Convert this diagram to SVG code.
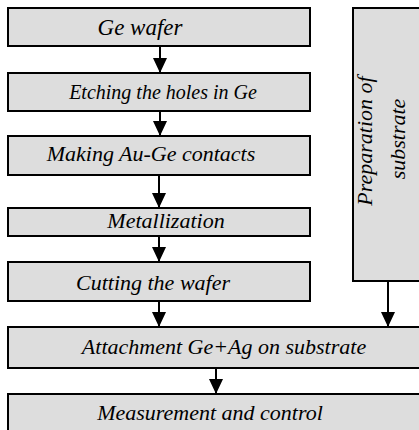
<svg xmlns="http://www.w3.org/2000/svg" width="419" height="430" viewBox="0 0 419 430">
<defs>
<style>
.box{fill:#dddddd;stroke:#000;stroke-width:2}
.c{stroke:#000;stroke-width:2;fill:none}
</style>
<marker id="ah" viewBox="0 0 15 14" refX="15" refY="7" markerWidth="15" markerHeight="14" markerUnits="userSpaceOnUse" orient="auto">
<path d="M0,0 L15,7 L0,14 Z" fill="#000"/>
</marker>
</defs>
<rect width="419" height="430" fill="#fff"/>
<g id="n1"><rect class="box" x="8" y="8" width="302" height="38"/><text style="font-family:'Liberation Serif',serif !important;font-style:italic;font-size:23px" text-anchor="middle" x="140" y="35">Ge wafer</text></g>
<g id="n2"><rect class="box" x="8" y="73" width="302" height="38"/><text style="font-family:'Liberation Serif',serif !important;font-style:italic;font-size:20px" text-anchor="middle" x="163" y="99">Etching the holes in Ge</text></g>
<g id="n3"><rect class="box" x="8" y="136" width="302" height="39"/><text style="font-family:'Liberation Serif',serif !important;font-style:italic;font-size:22px" text-anchor="middle" x="151" y="161">Making Au-Ge contacts</text></g>
<g id="n4"><rect class="box" x="8" y="208" width="302" height="28"/><text style="font-family:'Liberation Serif',serif !important;font-style:italic;font-size:22px" text-anchor="middle" x="166" y="228">Metallization</text></g>
<g id="n5"><rect class="box" x="8" y="262" width="302" height="39"/><text style="font-family:'Liberation Serif',serif !important;font-style:italic;font-size:22px" text-anchor="middle" x="153" y="290">Cutting the wafer</text></g>
<g id="n6"><rect class="box" x="353" y="8" width="80" height="273"/>
<text style="font-family:'Liberation Serif',serif !important;font-style:italic;font-size:22px" text-anchor="middle" transform="translate(372,141) rotate(-90)">Preparation of</text>
<text style="font-family:'Liberation Serif',serif !important;font-style:italic;font-size:22px" text-anchor="middle" transform="translate(405,139) rotate(-90)">substrate</text></g>
<g id="n7"><rect class="box" x="8" y="327" width="425" height="41"/><text style="font-family:'Liberation Serif',serif !important;font-style:italic;font-size:22px" text-anchor="middle" x="224" y="354">Attachment Ge+Ag on substrate</text></g>
<g id="n8"><rect class="box" x="8" y="394" width="425" height="50"/><text style="font-family:'Liberation Serif',serif !important;font-style:italic;font-size:22px" text-anchor="middle" x="210" y="420">Measurement and control</text></g>
<g id="connectors">
<line class="c" x1="160" y1="46" x2="160" y2="73" marker-end="url(#ah)"/>
<line class="c" x1="160" y1="111" x2="160" y2="136" marker-end="url(#ah)"/>
<line class="c" x1="159" y1="175" x2="159" y2="208" marker-end="url(#ah)"/>
<line class="c" x1="159" y1="236" x2="159" y2="262" marker-end="url(#ah)"/>
<line class="c" x1="159" y1="301" x2="159" y2="327" marker-end="url(#ah)"/>
<line class="c" x1="388" y1="281" x2="388" y2="327" marker-end="url(#ah)"/>
<line class="c" x1="216" y1="368" x2="216" y2="394" marker-end="url(#ah)"/>
</g>
</svg>
